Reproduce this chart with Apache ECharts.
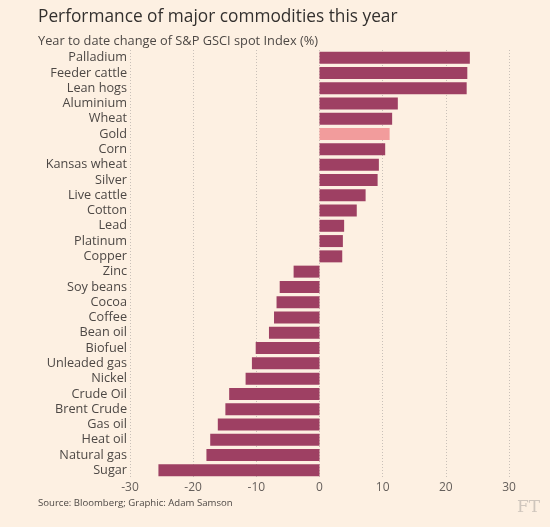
<!DOCTYPE html>
<html>
<head>
<meta charset="utf-8">
<script src="https://cdn.jsdelivr.net/npm/echarts@6/dist/echarts.min.js"></script>
<style>
html,body{margin:0;padding:0;background:#fdf0e2;}
#chart{width:550px;height:527px;}
</style>
</head>
<body>
<div id="chart"></div>
<script>
const categories = ["Palladium","Feeder cattle","Lean hogs","Aluminium","Wheat","Gold","Corn","Kansas wheat","Silver","Live cattle","Cotton","Lead","Platinum","Copper","Zinc","Soy beans","Cocoa","Coffee","Bean oil","Biofuel","Unleaded gas","Nickel","Crude Oil","Brent Crude","Gas oil","Heat oil","Natural gas","Sugar"];
const values = [23.8,23.4,23.3,12.4,11.5,11.1,10.4,9.4,9.2,7.3,5.9,3.9,3.7,3.6,-4.1,-6.3,-6.8,-7.2,-8.0,-10.1,-10.7,-11.7,-14.3,-14.9,-16.1,-17.3,-17.9,-25.5];
const highlight = "Gold";
const xTicks = [-30,-20,-10,0,10,20,30];

const chart = echarts.init(document.getElementById('chart'));
const font = '"Open Sans", sans-serif';
chart.setOption({
  backgroundColor: '#fdf0e2',
  animation: false,
  title: [
    {text: 'Performance of major commodities this year', left: 33, top: 4,
     textStyle: {fontFamily: font, fontSize: 17.3, fontWeight: 'normal', color: '#33302e'}},
    {text: 'Year to date change of S&P GSCI spot Index (%)', left: 33, top: 30,
     textStyle: {fontFamily: font, fontSize: 12.8, fontWeight: 'normal', color: '#4d4845'}},
    {text: 'Source: Bloomberg; Graphic: Adam Samson', left: 33, top: 493,
     textStyle: {fontFamily: font, fontSize: 9.6, fontWeight: 'normal', color: '#4d4845'}},
    {text: 'FT', left: 512, top: 494,
     textStyle: {fontFamily: '"DejaVu Serif", serif', fontSize: 17, fontWeight: 'normal', color: '#cfc6bd'}}
  ],
  grid: {left: 130, right: 41, top: 50, bottom: 49, containLabel: false},
  xAxis: {
    type: 'value', min: xTicks[0], max: xTicks[xTicks.length-1], interval: 10,
    axisLine: {show: false}, axisTick: {show: false},
    splitLine: {show: true, lineStyle: {type: [1,2], color: '#c9c0b8', width: 1}},
    axisLabel: {fontFamily: font, fontSize: 12, color: '#66605c', margin: 4}
  },
  yAxis: {
    type: 'category', data: categories, inverse: true,
    axisLine: {show: false}, axisTick: {show: false},
    axisLabel: {interval: 0, fontFamily: font, fontSize: 12.7, color: '#4d4845', margin: 3}
  },
  series: [{
    type: 'bar', barWidth: 12,
    data: values.map((v, i) => ({
      value: v,
      itemStyle: {color: categories[i] === highlight ? '#f29c9c' : '#9e4063'}
    }))
  }]
});
</script>
</body>
</html>
